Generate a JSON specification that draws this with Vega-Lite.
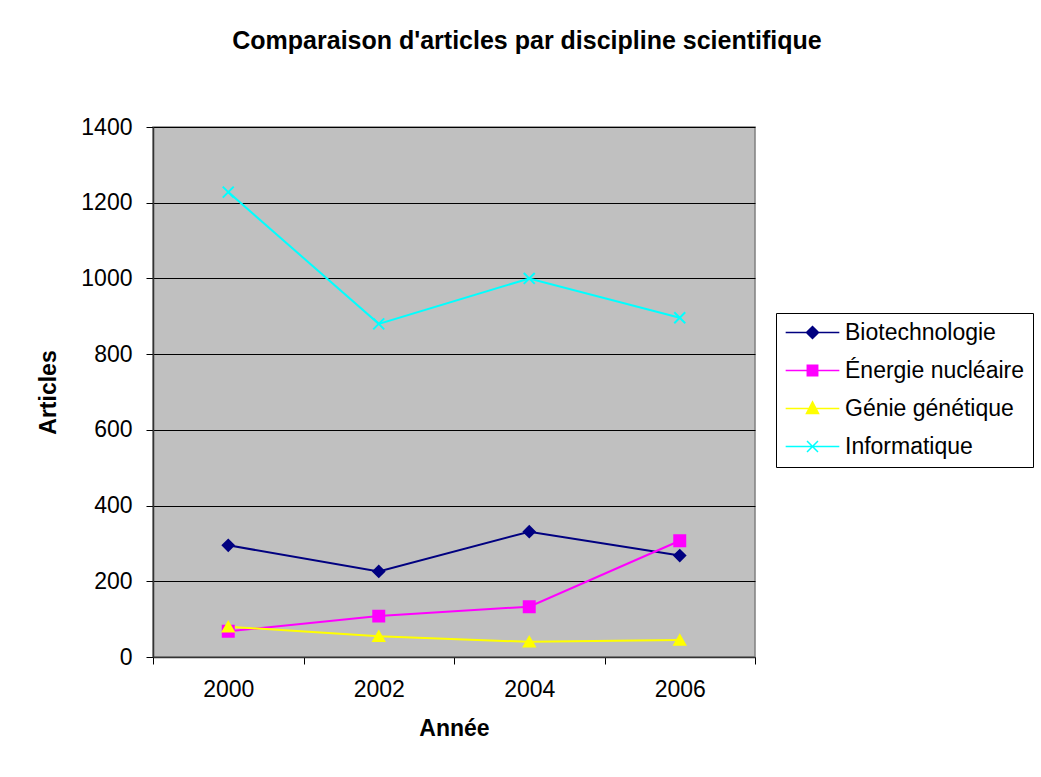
{
  "$schema": "https://vega.github.io/schema/vega-lite/v6.json",
  "autosize": "none",
  "width": 602,
  "height": 530,
  "padding": {"left": 153, "top": 127, "right": 286, "bottom": 120},
  "background": "white",
  "config": {
    "font": "Liberation Sans",
    "view": {"fill": "#C0C0C0", "stroke": "#808080", "strokeWidth": 1.5},
    "legend": {
      "title": null,
      "orient": "none",
      "legendX": 623,
      "legendY": 186,
      "fillColor": "white",
      "strokeColor": "black",
      "padding": 8,
      "labelFontSize": 23,
      "labelColor": "black",
      "labelLimit": 300,
      "labelOffset": 21,
      "symbolOffset": 17,
      "rowPadding": 14,
      "symbolSize": 120,
      "symbolStrokeWidth": 1.5
    }
  },
  "title": {
    "text": "Comparaison d'articles par discipline scientifique",
    "font": "Liberation Sans",
    "fontSize": 25,
    "fontWeight": "bold",
    "color": "black",
    "anchor": "middle",
    "frame": "group",
    "dx": 73,
    "offset": 62
  },
  "data": {
    "values": [
      {"Année": "2000", "Discipline": "Biotechnologie", "Articles": 295},
      {"Année": "2002", "Discipline": "Biotechnologie", "Articles": 226},
      {"Année": "2004", "Discipline": "Biotechnologie", "Articles": 331},
      {"Année": "2006", "Discipline": "Biotechnologie", "Articles": 268},
      {"Année": "2000", "Discipline": "Énergie nucléaire", "Articles": 68},
      {"Année": "2002", "Discipline": "Énergie nucléaire", "Articles": 108},
      {"Année": "2004", "Discipline": "Énergie nucléaire", "Articles": 133},
      {"Année": "2006", "Discipline": "Énergie nucléaire", "Articles": 307},
      {"Année": "2000", "Discipline": "Génie génétique", "Articles": 80},
      {"Année": "2002", "Discipline": "Génie génétique", "Articles": 55},
      {"Année": "2004", "Discipline": "Génie génétique", "Articles": 40},
      {"Année": "2006", "Discipline": "Génie génétique", "Articles": 45},
      {"Année": "2000", "Discipline": "Informatique", "Articles": 1228},
      {"Année": "2002", "Discipline": "Informatique", "Articles": 880},
      {"Année": "2004", "Discipline": "Informatique", "Articles": 1000},
      {"Année": "2006", "Discipline": "Informatique", "Articles": 896}
    ]
  },
  "encoding": {
    "x": {
      "field": "Année",
      "type": "ordinal",
      "bandPosition": 0.5,
      "scale": {"type": "band", "paddingInner": 0, "paddingOuter": 0},
      "axis": {
        "title": "Année",
        "labelAngle": 0,
        "tickBand": "extent",
        "domainColor": "#333333",
        "domainWidth": 1.5,
        "tickColor": "black",
        "tickSize": 7,
        "labelFontSize": 23,
        "labelColor": "black",
        "labelPadding": 14,
        "titleFontSize": 23,
        "titleFontWeight": "bold",
        "titleColor": "black",
        "titlePadding": 16
      }
    },
    "y": {
      "field": "Articles",
      "type": "quantitative",
      "scale": {"domain": [0, 1400], "nice": false},
      "axis": {
        "title": "Articles",
        "values": [0, 200, 400, 600, 800, 1000, 1200, 1400],
        "format": "d",
        "grid": true,
        "gridColor": "black",
        "gridOpacity": 1,
        "domainColor": "#333333",
        "domainWidth": 1.5,
        "tickColor": "black",
        "tickSize": 7,
        "labelFontSize": 23,
        "labelColor": "black",
        "labelPadding": 14,
        "titleFontSize": 23,
        "titleFontWeight": "bold",
        "titleColor": "black",
        "titlePadding": 20
      }
    }
  },
  "resolve": {"legend": {"color": "independent", "stroke": "independent", "shape": "independent"}},
  "layer": [
    {
      "mark": {"type": "line", "strokeWidth": 2},
      "encoding": {
        "color": {
          "field": "Discipline",
          "type": "nominal",
          "scale": {
            "domain": ["Biotechnologie", "Énergie nucléaire", "Génie génétique", "Informatique"],
            "range": ["#000080", "#FF00FF", "#FFFF00", "#00FFFF"]
          },
          "legend": {
            "symbolType": "circle",
            "encode": {
              "symbols": {
                "update": {
                  "shape": {"signal": "datum.value === 'Biotechnologie' ? 'M-4.9,0H4.9M0,-1.1L1.1,0L0,1.1L-1.1,0Z' : datum.value === 'Énergie nucléaire' ? 'M-4.9,0H4.9M-0.95,-0.95H0.95V0.95H-0.95Z' : datum.value === 'Génie génétique' ? 'M-4.9,0H4.9M0,-1.2L1.1,0.9L-1.1,0.9Z' : 'M-4.9,0H4.9M-1,-1L1,1M1,-1L-1,1'"},
                  "fill": {"scale": "color", "field": "value"},
                  "stroke": {"scale": "color", "field": "value"},
                  "strokeWidth": {"value": 1.5},
                  "opacity": {"value": 1}
                }
              }
            }
          }
        }
      }
    },
    {
      "mark": {"type": "point", "filled": true, "size": 120, "opacity": 1, "strokeWidth": 2},
      "encoding": {
        "color": {
          "field": "Discipline",
          "type": "nominal",
          "legend": null
        },
        "stroke": {
          "field": "Discipline",
          "type": "nominal",
          "scale": {
            "domain": ["Biotechnologie", "Énergie nucléaire", "Génie génétique", "Informatique"],
            "range": ["#000080", "#FF00FF", "#FFFF00", "#00FFFF"]
          },
          "legend": null
        },
        "shape": {
          "field": "Discipline",
          "type": "nominal",
          "scale": {
            "domain": ["Biotechnologie", "Énergie nucléaire", "Génie génétique", "Informatique"],
            "range": ["diamond", "square", "triangle-up", "M-1,-1L1,1M1,-1L-1,1"]
          },
          "legend": null
        }
      }
    }
  ]
}
